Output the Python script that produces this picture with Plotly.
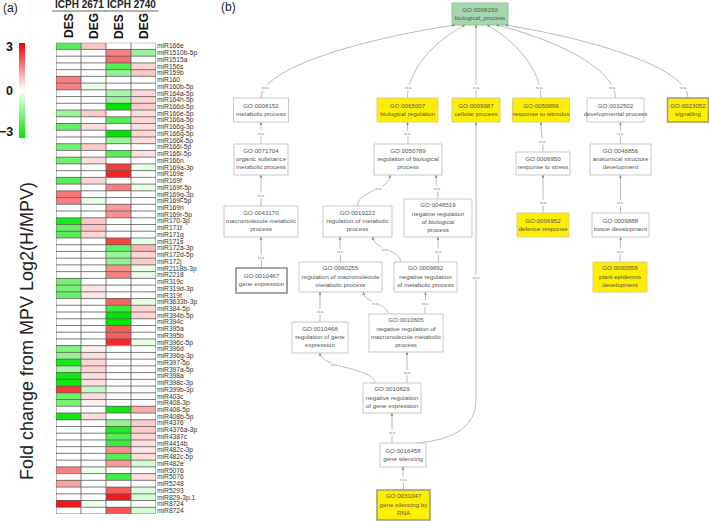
import math
import textwrap
import plotly.graph_objects as go

W, H = 709, 521

# ---------------- Panel (a) data ----------------
mirnas = ["miR166e", "miR1510b-5p", "miR1515a", "miR156s", "miR159b", "miR160", "miR160b-5p",
          "miR164a-5p", "miR164h-5p", "miR166d-5p", "miR166e-5p", "miR166a-5p", "miR166g-3p",
          "miR166g-5p", "miR166k-5p", "miR166l-5p", "miR166l-5p", "miR166n", "miR169a-3p",
          "miR169e", "miR169f", "miR169f-5p", "miR169g-3p", "miR169l-5p", "miR169n", "miR169r-5p",
          "miR170-3p", "miR171f", "miR171g", "miR171s", "miR172a-3p", "miR172d-5p", "miR172j",
          "miR2118b-3p", "miR2218", "miR319c", "miR319d-3p", "miR319f", "miR3633b-3p", "miR384-5p",
          "miR394b-5p", "miR394c", "miR395a", "miR395b", "miR396c-5p", "miR396d", "miR396g-3p",
          "miR397-5p", "miR397a-5p", "miR398a", "miR398c-3p", "miR399b-3p", "miR403c", "miR408-3p",
          "miR408-5p", "miR408b-5p", "miR4376", "miR4376a-3p", "miR4387c", "miR4414b", "miR482c-3p",
          "miR482c-5p", "miR482e", "miR5076", "miR5076", "miR5248", "miR5293", "miR829-3p.1",
          "miR8724", "miR8724"]

des_2671 = [-2, 0, 0, 0, 0, 1.5, 1.5, 0, 0, 0,
            -1.2, 0, -1.8, 0, 0, -1.7, 0, -1.7, 0, 0,
            -2, 0, 1.6, 1.5, 0, 0, -2.7, -1.8, -2, 0,
            0, 0, 0, 0, 0, -1.6, -1.6, -1.8, 0, 0,
            0, 0, 0, 0, 0, -1.5, -1.3, -2.7, -1.0, -2.8,
            -2.8, 2.3, -1.7, -1.6, 0, -2.8, 0, 0, 0, 0,
            0, 0, 0, 1.5, 0, 1.1, 0, 0, 2.7, 0]
deg_2671 = [0.7, 0, 0, 0, 0, 0, -0.3, 0, 0, 0,
            0.6, 0, 0.4, 0, 0, 0.6, 0, 0.4, 0, 0,
            0.5, 0, 0, -0.3, 0, 0, 0.7, 0.7, 0.5, 0,
            0, 0, 0, 0, 0, 0, 0.3, 0.3, 0, 0,
            0, 0, 0, 0, 0, 0.2, 0.4, 0.5, 0.5, 0.4,
            0.4, -0.7, 0.4, 0.2, 0, 0.4, 0, 0, 0, 0,
            0, 0, 0, -0.3, 0, 0, 0, 0, -0.2, 0]
des_2740 = [0, 1.5, 1.7, -2, -1.3, 0, 0, -1.0, -1.2, -3,
            0, -2, 0, -3, -1.2, 0, -2, 0, 2.3, 2.6,
            0, 1.5, 0, 0, 1.2, 1.3, 0, 0, 0, 2.2,
            -1.8, -1.2, -1.3, 1.3, 1.5, 0, 0, 0, 1.8, -2.3,
            -3, -3, 1.9, 1.9, 2.5, 0, 0, 0, 0, 0,
            0, 0, 0, 0, -2.8, 0, -1.3, -2.6, -2, -2.3,
            1.3, -2, 1.2, 0, -2.2, 0, 1.9, 2.7, 0, 2.0]
deg_2740 = [0, -1.2, 0, 0.5, 0.7, 0, 0, 0.5, 0.5, 0.6,
            0.4, 0.5, 0.4, 0.5, 0.4, 0, 0.4, 0, -0.3, 0,
            0, -0.3, 0, 0, 0, 0, 0, 0, 0, -0.3,
            0.9, 0.5, 0.6, -0.3, -0.2, 0, 0, 0, -0.3, 0.5,
            0.5, 0, 0, 0, -0.3, 0, 0, 0, 0, 0,
            0, 0, 0, 0, 1.0, 0, 0.6, 0.6, 0.5, 0.4,
            0.3, 0.4, -0.5, 0, 0.4, 0, -0.4, -0.5, 0, -0.5]
columns = ["DES", "DEG", "DES", "DEG"]
genotypes = ["ICPH 2671", "ICPH 2740"]
scale_ticks = [3, 0, -3]
scale_title = "Fold change from MPV Log2(H/MPV)"

# ---------------- Panel (b) data ----------------
go_ids = ["GO:0008150", "GO:0008152", "GO:0065007", "GO:0009987", "GO:0050896", "GO:0032502",
          "GO:0023052", "GO:0071704", "GO:0050789", "GO:0006950", "GO:0048856", "GO:0043170",
          "GO:0019222", "GO:0048519", "GO:0006952", "GO:0009888", "GO:0010467", "GO:0060255",
          "GO:0009892", "GO:0090558", "GO:0010468", "GO:0010605", "GO:0010629", "GO:0016458",
          "GO:0031047"]
go_names = ["biological_process", "metabolic process", "biological regulation", "cellular process",
            "response to stimulus", "developmental process", "signalling",
            "organic substance metabolic process", "regulation of biological process",
            "response to stress", "anatomical structure development",
            "macromolecule metabolic process", "regulation of metabolic process",
            "negative regulation of biological process", "defence response", "tissue development",
            "gene expression", "regulation of macromolecule metabolic process",
            "negative regulation of metabolic process", "plant epidermis development",
            "regulation of gene expression",
            "negative regulation of macromolecule metabolic process",
            "negative regulation of gene expression", "gene silencing", "gene silencing by RNA"]
go_status = ["root", "plain", "enriched", "enriched", "enriched", "plain",
             "enriched_strong", "plain", "plain", "plain", "plain", "plain",
             "plain", "plain", "enriched", "plain", "query", "plain",
             "plain", "enriched", "plain", "plain", "plain", "plain",
             "enriched_strong"]
go_edges = [("GO:0008152", "GO:0008150"), ("GO:0065007", "GO:0008150"), ("GO:0009987", "GO:0008150"),
            ("GO:0050896", "GO:0008150"), ("GO:0032502", "GO:0008150"), ("GO:0023052", "GO:0008150"),
            ("GO:0071704", "GO:0008152"), ("GO:0050789", "GO:0065007"), ("GO:0006950", "GO:0050896"),
            ("GO:0048856", "GO:0032502"), ("GO:0043170", "GO:0071704"), ("GO:0019222", "GO:0050789"),
            ("GO:0048519", "GO:0050789"), ("GO:0006952", "GO:0006950"), ("GO:0009888", "GO:0048856"),
            ("GO:0010467", "GO:0043170"), ("GO:0060255", "GO:0019222"), ("GO:0009892", "GO:0019222"),
            ("GO:0009892", "GO:0048519"), ("GO:0090558", "GO:0009888"), ("GO:0010468", "GO:0060255"),
            ("GO:0010605", "GO:0060255"), ("GO:0010605", "GO:0009892"), ("GO:0010629", "GO:0010468"),
            ("GO:0010629", "GO:0010605"), ("GO:0016458", "GO:0010629"), ("GO:0016458", "GO:0009987"),
            ("GO:0031047", "GO:0016458")]
edge_label = "is a"

# ---------------- layout (positions in panel pixels) ----------------
node_layout = {  # cx, cy, w, h, wrap
    "GO:0008150": (480, 14, 56, 22, 30),
    "GO:0008152": (261, 110, 55, 24, 30),
    "GO:0065007": (407.5, 110, 61, 24, 30),
    "GO:0009987": (476, 110, 48, 24, 30),
    "GO:0050896": (541, 110, 57, 24, 30),
    "GO:0032502": (615.5, 110, 57, 24, 30),
    "GO:0023052": (688, 110, 41, 24, 30),
    "GO:0071704": (261, 159.5, 54, 31, 18),
    "GO:0050789": (408, 159.5, 68, 31, 24),
    "GO:0006950": (543, 163.5, 54, 23, 30),
    "GO:0048856": (620.5, 159.5, 61, 31, 20),
    "GO:0043170": (261, 221.5, 74, 31, 23),
    "GO:0019222": (357.5, 221.5, 69, 31, 23),
    "GO:0048519": (438, 218, 68, 38, 19),
    "GO:0006952": (543, 225, 52, 24, 30),
    "GO:0009888": (620.5, 225, 57, 24, 30),
    "GO:0010467": (261.5, 280.5, 51, 25, 30),
    "GO:0060255": (340.5, 277, 83, 30, 27),
    "GO:0009892": (425.5, 277, 63, 30, 20),
    "GO:0090558": (620, 277, 54, 30, 15),
    "GO:0010468": (320, 337.5, 56, 31, 18),
    "GO:0010605": (406, 333, 74, 38, 23),
    "GO:0010629": (392, 398, 58, 30, 19),
    "GO:0016458": (403, 455, 46, 24, 30),
    "GO:0031047": (403.5, 505, 53, 30, 17),
}
edge_layout = {  # child dx, parent dx, label y (None -> just above child)
    ("GO:0008152", "GO:0008150"): (0, -25, None),
    ("GO:0065007", "GO:0008150"): (0, -15, None),
    ("GO:0009987", "GO:0008150"): (0, -4, None),
    ("GO:0050896", "GO:0008150"): (0, 7, None),
    ("GO:0032502", "GO:0008150"): (0, 16, None),
    ("GO:0023052", "GO:0008150"): (0, 25, None),
    ("GO:0048856", "GO:0032502"): (0, 5, None),
    ("GO:0019222", "GO:0050789"): (0, -18, 188),
    ("GO:0048519", "GO:0050789"): (0, 28, None),
    ("GO:0060255", "GO:0019222"): (0, -17.5, None),
    ("GO:0009892", "GO:0019222"): (-25, 15.5, 249),
    ("GO:0009892", "GO:0048519"): (13, 0, None),
    ("GO:0010468", "GO:0060255"): (0, -20.5, None),
    ("GO:0010605", "GO:0060255"): (-18, 23, None),
    ("GO:0010605", "GO:0009892"): (19, 0, None),
    ("GO:0010629", "GO:0010468"): (-17, 0, 364),
    ("GO:0010629", "GO:0010605"): (15, 1, None),
    ("GO:0016458", "GO:0010629"): (-11, 0, None),
    ("GO:0016458", "GO:0009987"): (14, 0, 277),
}
edge_via = {("GO:0016458", "GO:0009987"): (476, 400)}

fill_of = {"root": "#a5d6ad", "enriched": "#ffee00", "enriched_strong": "#ffee00",
           "query": "white", "plain": "white"}
border_of = {"root": "#93c09b", "enriched": "#d8d08a", "enriched_strong": "#9a9a7a",
             "query": "#8a8a8a", "plain": "#c9c9c9"}
borderw_of = {"root": 1, "enriched": 1, "enriched_strong": 1.5, "query": 1.6, "plain": 1}

FONT = "Liberation Sans, Arial, sans-serif"
def px(x):
    return x / W
def py(y):
    return 1 - y / H

def note(text, x, y, size, color="#222", angle=0, xanchor="center"):
    return dict(text=text, x=px(x), y=py(y), xref="paper", yref="paper", showarrow=False,
                xanchor=xanchor, yanchor="middle", textangle=angle,
                font=dict(size=size, color=color, family=FONT))

fig = go.Figure()

# ---- heatmap ----
z = [list(r) for r in zip(des_2671, deg_2671, des_2740, deg_2740)]
nrow, ncol = len(mirnas), len(columns)
hm_top, hm_bot, hm_left, hm_right = 42.7, 514, 56, 156
fig.add_trace(go.Heatmap(
    z=z, x=list(range(ncol)), y=list(range(nrow)), zmin=-3, zmax=3,
    colorscale=[[0, "rgb(0,230,0)"], [0.5, "rgb(255,255,255)"], [1, "rgb(240,0,0)"]],
    colorbar=dict(thickness=6, thicknessmode="pixels", len=95, lenmode="pixels",
                  x=px(19), xanchor="left", y=py(hm_top), yanchor="top",
                  xpad=0, ypad=0, outlinewidth=0, showticklabels=False, ticks=""),
    hoverinfo="skip", xaxis="x", yaxis="y"))

shapes = []
for i in range(nrow + 1):
    shapes.append(dict(type="line", xref="x", yref="y", x0=-0.5, x1=ncol - 0.5,
                       y0=i - 0.5, y1=i - 0.5, line=dict(color="#5a5a5a", width=0.8), layer="above"))
for j in range(ncol + 1):
    shapes.append(dict(type="line", xref="x", yref="y", x0=j - 0.5, x1=j - 0.5,
                       y0=-0.5, y1=nrow - 0.5, line=dict(color="#5a5a5a", width=0.8), layer="above"))

annotations = []
annotations.append(note("(a)", 10, 8, 12))
annotations.append(note("(b)", 228, 7, 12))
cell_w = (hm_right - hm_left) / ncol
for j, c in enumerate(columns):
    annotations.append(note("<b>%s</b>" % c, hm_left + cell_w * (j + 0.5) + 0.5, 26, 12, "#111", -90))
for g, name in enumerate(genotypes):
    x0 = hm_left + 2 * cell_w * g
    annotations.append(note("<b>%s</b>" % name, x0 + cell_w - 2 + 2 * g, 4.5, 10))
    shapes.append(dict(type="line", xref="paper", yref="paper", x0=px(x0 - 4 + 2 * g),
                       x1=px(x0 + 2 * cell_w + 0.5 + 2 * g),
                       y0=py(11), y1=py(11), line=dict(color="#9a9a9a", width=1.3)))
for v, yy in zip(scale_ticks, [47, 90.5, 132]):
    lab = str(v).replace("-", "\u2212")
    annotations.append(note("<b>%s</b>" % lab, 15, yy, 12.5, "#111", 0, "right"))
annotations.append(note(scale_title, 27, 331, 18, "#222", -90))

# ---- GO graph ----
def cubic(p0, p1, p2, p3, t):
    a = (1 - t) ** 3; b = 3 * (1 - t) ** 2 * t; c = 3 * (1 - t) * t * t; d = t ** 3
    return (a * p0[0] + b * p1[0] + c * p2[0] + d * p3[0], a * p0[1] + b * p1[1] + c * p2[1] + d * p3[1])

edge_shapes = []
for child, parent in go_edges:
    cdx, pdx, ly = edge_layout.get((child, parent), (0, 0, None))
    ccx, ccy, cw, ch, _ = node_layout[child]
    pcx, pcy, pw, ph, _ = node_layout[parent]
    S = (ccx + cdx, ccy - ch / 2)
    E = (pcx + pdx, pcy + ph / 2)
    if ly is None:
        ly = S[1] - 11
    dy = S[1] - E[1]
    if (child, parent) in edge_via:
        vx, vy = edge_via[(child, parent)]
        path = "M %.1f,%.1f Q %.1f,%.1f %.1f,%.1f L %.1f,%.1f" % (S[0], S[1], vx, S[1] - 5, vx, vy, E[0], E[1])
        u = (0, -1)
        lx = vx
    else:
        if dy > 50:
            c1 = (S[0], S[1] - 0.4 * dy)
            c2 = (E[0] + 0.5 * (S[0] - E[0]), E[1] + 0.2 * dy)
        else:
            c1 = (S[0], S[1] - 0.5 * dy)
            c2 = (E[0], E[1] + 0.5 * dy)
        path = "M %.1f,%.1f C %.1f,%.1f %.1f,%.1f %.1f,%.1f" % (S[0], S[1], c1[0], c1[1], c2[0], c2[1], E[0], E[1])
        ddx, ddy = E[0] - c2[0], E[1] - c2[1]
        n = math.hypot(ddx, ddy) or 1
        u = (ddx / n, ddy / n)
        pts = [cubic(S, c1, c2, E, k / 200) for k in range(201)]
        lx = min(pts, key=lambda p: abs(p[1] - ly))[0]
    edge_shapes.append(dict(type="path", path=path, xref="x2", yref="y2",
                            line=dict(color="#a8a8a8", width=0.8), layer="below"))
    annotations.append(dict(text="", x=E[0], y=E[1], ax=E[0] - u[0] * 4, ay=E[1] - u[1] * 4,
                            xref="x2", yref="y2", axref="x2", ayref="y2", showarrow=True,
                            arrowhead=2, arrowsize=0.7, arrowwidth=0.8, arrowcolor="#8a8a8a", standoff=0))
    annotations.append(dict(text=edge_label, x=lx, y=ly, xref="x2", yref="y2", showarrow=False,
                            xanchor="center", yanchor="middle",
                            bgcolor="rgba(255,255,255,0.85)", borderpad=0,
                            font=dict(size=4, color="#777", family=FONT)))

node_shapes = []
tx, ty, tt = [], [], []
for gid, name, st in zip(go_ids, go_names, go_status):
    cx, cy, w, h, wrap = node_layout[gid]
    node_shapes.append(dict(type="rect", xref="x2", yref="y2", x0=cx - w / 2, x1=cx + w / 2,
                            y0=cy - h / 2, y1=cy + h / 2, fillcolor=fill_of[st],
                            line=dict(color=border_of[st], width=borderw_of[st]), layer="below"))
    tx.append(cx); ty.append(cy)
    tt.append("<br>".join([gid] + textwrap.wrap(name, wrap)))
fig.add_trace(go.Scatter(x=tx, y=ty, text=tt, mode="text", xaxis="x2", yaxis="y2",
                         textfont=dict(size=6.2, color="#555", family=FONT),
                         hoverinfo="skip", cliponaxis=False))

fig.update_layout(
    width=W, height=H, autosize=False, margin=dict(l=0, r=0, t=0, b=0),
    paper_bgcolor="white", plot_bgcolor="white", showlegend=False,
    font=dict(family=FONT),
    xaxis=dict(domain=[px(hm_left), px(hm_right)], range=[-0.5, ncol - 0.5], visible=False,
               anchor="y", fixedrange=True),
    yaxis=dict(domain=[py(hm_bot), py(hm_top)], range=[nrow - 0.5, -0.5], side="right",
               tickvals=list(range(nrow)), ticktext=mirnas, ticks="", showgrid=False,
               zeroline=False, showline=False, anchor="x", automargin=False,
               tickfont=dict(size=6.7, color="#333", family=FONT)),
    xaxis2=dict(domain=[px(200), 1], range=[200, W], visible=False, anchor="y2"),
    yaxis2=dict(domain=[0, 1], range=[H, 0], visible=False, anchor="x2"),
    shapes=shapes + edge_shapes + node_shapes,
    annotations=annotations,
)

fig.write_html("out.html", config={"displayModeBar": False},
               post_script="document.body.style.margin='0px';document.body.style.overflow='hidden';")
